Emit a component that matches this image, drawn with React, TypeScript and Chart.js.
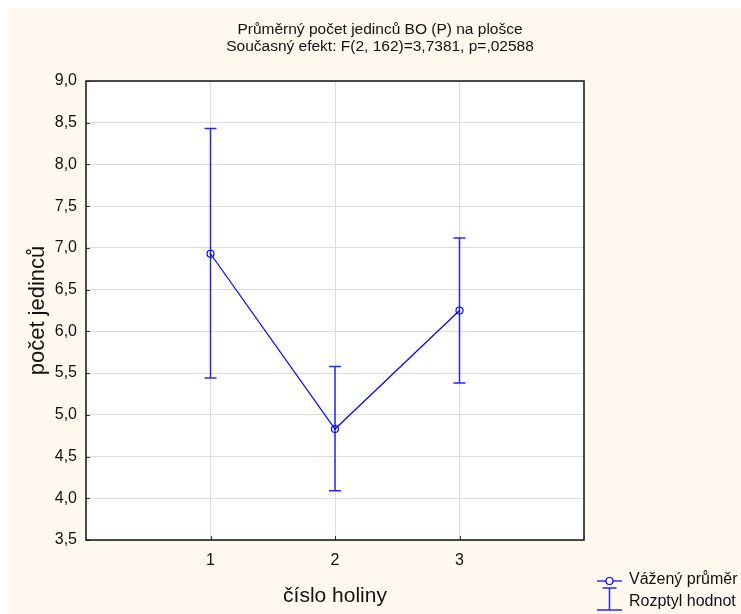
import React, { useEffect, useRef } from "react";
import { Chart, registerables } from "chart.js";

Chart.register(...registerables);

const categories = [1, 2, 3];
const means = [6.93, 4.83, 6.25];
const upper = [8.43, 5.58, 7.12];
const lower = [5.44, 4.09, 5.38];
const yMin = 3.5;
const yMax = 9.0;
const yStep = 0.5;
const xMin = 0;
const xMax = 4;
const titleLines = [
  "Průměrný počet jedinců BO (P) na plošce",
  "Současný efekt: F(2, 162)=3,7381, p=,02588",
];
const xTitle = "číslo holiny";
const yTitle = "počet jedinců";
const legendLabels = ["Vážený průměr", "Rozptyl hodnot"];

const CREAM = "#fff9ef";
const BLUE = "#0000ff";
const BAR_BLUE = "#2626ff";
const FONT = "'Liberation Sans', Arial, sans-serif";

const W = 733;
const H = 606;

const deco = {
  id: "deco",
  beforeDraw(chart: any) {
    const { ctx, chartArea: a, width, height } = chart;
    ctx.save();
    ctx.fillStyle = CREAM;
    ctx.fillRect(0, 0, width, height);
    ctx.fillStyle = "#ffffff";
    ctx.fillRect(a.left, a.top, a.right - a.left, a.bottom - a.top);
    ctx.restore();
  },
  beforeDatasetsDraw(chart: any) {
    const { ctx } = chart;
    const xs = chart.scales.x;
    const ys = chart.scales.y;
    ctx.save();
    ctx.strokeStyle = BAR_BLUE;
    ctx.lineWidth = 1.5;
    categories.forEach((c, i) => {
      const x = xs.getPixelForValue(c);
      const yt = ys.getPixelForValue(upper[i]);
      const yb = ys.getPixelForValue(lower[i]);
      ctx.beginPath();
      ctx.moveTo(x, yt);
      ctx.lineTo(x, yb);
      ctx.moveTo(x - 6, yt);
      ctx.lineTo(x + 6, yt);
      ctx.moveTo(x - 6, yb);
      ctx.lineTo(x + 6, yb);
      ctx.stroke();
    });
    ctx.restore();
  },
  afterDraw(chart: any) {
    const { ctx, chartArea: a } = chart;
    const xs = chart.scales.x;
    const ys = chart.scales.y;
    ctx.save();
    // inner ticks
    ctx.strokeStyle = "#333";
    ctx.lineWidth = 1;
    ctx.beginPath();
    for (let v = yMin; v <= yMax + 1e-9; v += yStep) {
      const y = Math.round(ys.getPixelForValue(v)) + 0.5;
      ctx.moveTo(a.left, y);
      ctx.lineTo(a.left + 4, y);
    }
    categories.forEach((c) => {
      const x = Math.round(xs.getPixelForValue(c)) + 0.5;
      ctx.moveTo(x, a.bottom);
      ctx.lineTo(x, a.bottom - 4);
    });
    ctx.stroke();
    // border
    ctx.strokeStyle = "#111";
    ctx.lineWidth = 1.5;
    ctx.strokeRect(a.left, a.top, a.right - a.left, a.bottom - a.top);

    // titles
    ctx.fillStyle = "#111";
    ctx.font = `15.5px ${FONT}`;
    ctx.textAlign = "center";
    ctx.textBaseline = "middle";
    ctx.fillText(titleLines[0], 372, 22);
    ctx.fillText(titleLines[1], 372, 39);

    // axis titles
    ctx.font = `21px ${FONT}`;
    ctx.textBaseline = "alphabetic";
    ctx.fillText(xTitle, (a.left + a.right) / 2, 594);
    ctx.save();
    ctx.font = `22px ${FONT}`;
    ctx.translate(35.5, (a.top + a.bottom) / 2);
    ctx.rotate(-Math.PI / 2);
    ctx.fillText(yTitle, 0, 0);
    ctx.restore();

    // legend
    const cx = 601.5;
    ctx.strokeStyle = BLUE;
    ctx.lineWidth = 1.2;
    ctx.beginPath();
    ctx.moveTo(589, 573);
    ctx.lineTo(614, 573);
    ctx.stroke();
    ctx.beginPath();
    ctx.fillStyle = "#ffffff";
    ctx.arc(cx, 573, 3.5, 0, Math.PI * 2);
    ctx.fill();
    ctx.stroke();
    ctx.strokeStyle = BAR_BLUE;
    ctx.lineWidth = 1.5;
    ctx.beginPath();
    ctx.moveTo(cx - 7, 580);
    ctx.lineTo(cx + 7, 580);
    ctx.moveTo(cx, 580);
    ctx.lineTo(cx, 602);
    ctx.moveTo(cx - 12.5, 602);
    ctx.lineTo(cx + 12.5, 602);
    ctx.stroke();
    ctx.fillStyle = "#111";
    ctx.font = `16px ${FONT}`;
    ctx.textAlign = "left";
    ctx.textBaseline = "middle";
    ctx.fillText(legendLabels[0], 621, 572);
    ctx.fillText(legendLabels[1], 621, 594);
    ctx.restore();
  },
};

export default function App() {
  const ref = useRef<HTMLCanvasElement>(null);
  useEffect(() => {
    document.documentElement.style.overflow = "hidden";
    document.body.style.overflow = "hidden";
    const canvas = ref.current;
    if (!canvas) return;
    const chart = new Chart(canvas, {
      type: "line",
      data: {
        datasets: [
          {
            label: legendLabels[0],
            data: categories.map((c, i) => ({ x: c, y: means[i] })),
            borderColor: BLUE,
            borderWidth: 1.2,
            pointRadius: 3.5,
            pointBorderColor: BLUE,
            pointBackgroundColor: "rgba(0,0,0,0)",
            pointBorderWidth: 1.2,
            tension: 0,
          },
        ],
      },
      options: {
        responsive: false,
        animation: false,
        devicePixelRatio: 1,
        layout: { padding: { top: 73, right: 157, left: 0, bottom: 0 } },
        plugins: {
          legend: { display: false },
          title: { display: false },
          tooltip: { enabled: false },
        },
        scales: {
          x: {
            type: "linear",
            min: xMin,
            max: xMax,
            afterBuildTicks: (scale: any) => {
              scale.ticks = categories.map((v) => ({ value: v }));
            },
            afterFit: (scale: any) => {
              scale.height = 74;
            },
            grid: { color: "#dcdcdc", drawTicks: false },
            border: { display: false },
            ticks: {
              padding: 11,
              color: "#111",
              font: { family: FONT, size: 16 },
              callback: (v: any) => String(v),
            },
          },
          y: {
            type: "linear",
            min: yMin,
            max: yMax,
            afterFit: (scale: any) => {
              scale.width = 78;
            },
            grid: { color: "#dcdcdc", drawTicks: false },
            border: { display: false },
            ticks: {
              stepSize: yStep,
              padding: 9,
              color: "#111",
              font: { family: FONT, size: 16 },
              callback: (v: any) => Number(v).toFixed(1).replace(".", ","),
            },
          },
        },
      },
      plugins: [deco],
    });
    return () => chart.destroy();
  }, []);
  return (
    <div style={{ position: "fixed", left: 8, top: 8, width: W, height: H, background: CREAM }}>
      <canvas ref={ref} width={W} height={H} style={{ display: "block", width: W, height: H }} />
    </div>
  );
}
